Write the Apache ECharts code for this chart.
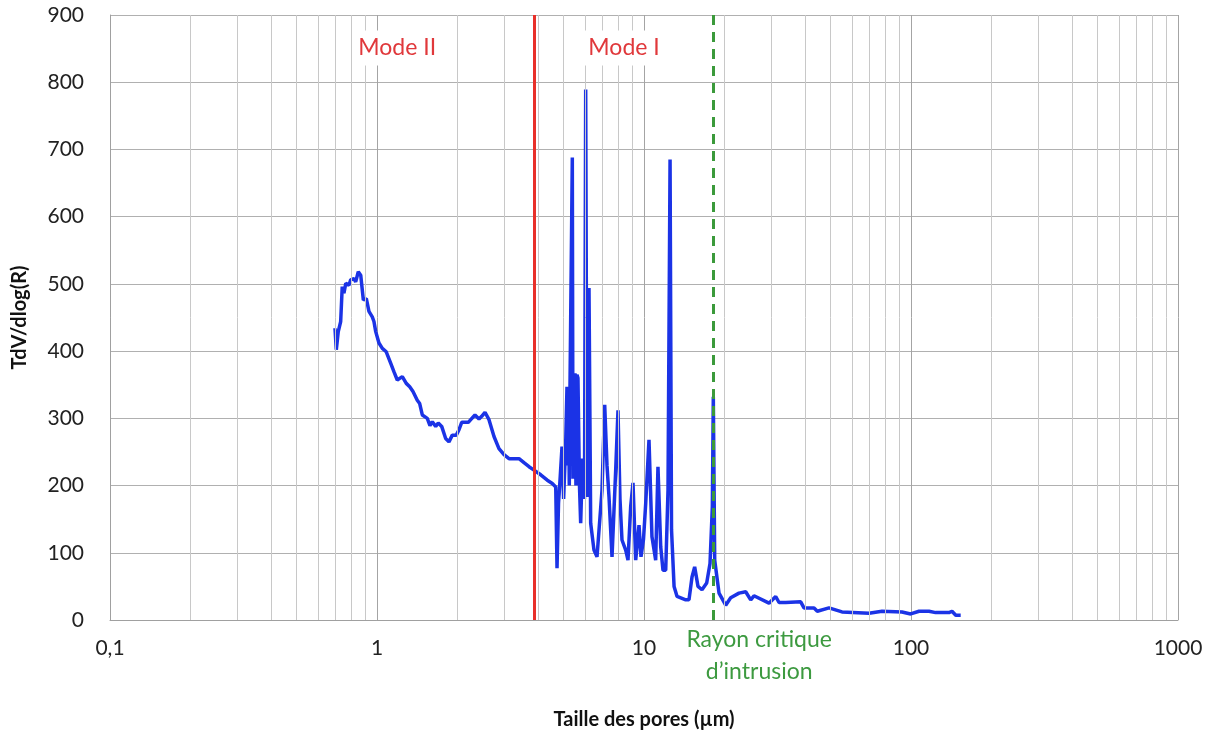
<!DOCTYPE html>
<html>
<head>
<meta charset="utf-8" />
<title>Distribution de la taille des pores</title>
<script type="text/javascript" src="https://cdn.jsdelivr.net/npm/echarts@6/dist/echarts.min.js"></script>
</head>
<body style="margin:0;background:#fff;">
<div id="main" style="width:1217px;height:736px;"></div>
<script>
// taille des pores (µm) et TdV/dlog(R)
var poreSize = [0.696,0.704,0.716,0.731,0.741,0.752,0.764,0.785,0.797,0.820,0.832,0.851,0.869,0.881,0.889,0.912,0.933,0.960,0.974,0.989,
  1.017,1.047,1.083,1.125,1.158,1.191,1.244,1.287,1.326,1.364,1.415,1.445,1.478,1.543,1.579,1.611,1.659,1.696,1.747,1.808,
  1.860,1.914,1.982,2.028,2.076,2.198,2.244,2.328,2.410,2.467,2.538,2.627,2.743,2.863,2.990,3.122,3.403,3.552,3.710,3.873,
  4.104,4.343,4.535,4.671,4.723,4.785,4.850,4.931,5.000,5.090,5.147,5.180,5.214,5.250,5.282,5.389,5.420,5.445,5.480,5.515,5.560,5.610,5.658,5.732,5.792,5.884,5.986,6.048,
  6.116,6.223,6.314,6.496,6.668,6.961,7.125,7.268,7.395,7.589,7.834,7.991,8.129,8.271,8.540,8.711,8.916,9.095,9.309,9.579,
  9.745,9.957,10.15,10.44,10.71,11.06,11.28,11.55,11.78,12.06,12.30,12.52,12.68,12.96,13.30,14.33,14.74,15.13,15.48,15.93,
  16.49,17.17,17.67,18.03,18.18,18.40,19.10,19.38,20.23,21.12,22.69,24.04,25.10,25.82,29.39,31.14,32.04,33.94,38.63,39.74,
  43.33,44.58,49.31,55.15,69.62,77.88,92.53,99.7,107.2,116.8,123.7,138.8,142.4,147.1,153.5];
var dVdlogR = [434,402,429,444,496,486,501,498,506,508,503,518,513,511,476,478,459,451,444,429,
  412,404,399,382,369,357,362,352,347,340,327,322,305,300,289,295,288,293,288,270,
  265,275,275,283,294,294,298,305,299,303,309,298,273,255,246,240,240,234,228,223,
  216,208,203,198,77,174,210,258,180,263,347,230,345,200,347,688,210,300,240,367,200,365,360,200,144,240,180,789,
  183,494,144,104,94,193,320,230,183,94,223,312,180,119,104,89,169,204,89,141,
  94,120,174,268,124,89,228,109,74,74,193,685,134,50,35,30,30,64,79,50,
  45,55,84,169,332,89,40,40,22,33,40,42,30,36,25,35,26,26,27,18,
  18,13,18,12,10,13,12,9,13,13,11,11,13,7,7];

// lignes verticales secondaires de la grille log
var minorTicks = [0.2,0.3,0.4,0.5,0.6,0.7,0.8,0.9, 2,3,4,5,6,7,8,9, 20,30,40,50,60,70,80,90, 200,300,400,500,600,700,800,900];
// limite des modes et rayon critique
var modeLimit = 3.87;
var rayonCritique = 18.2;

var pts = [];
for (var i = 0; i < poreSize.length; i++) {
  pts.push([poreSize[i], dVdlogR[i]]);
}

var font = 'Lato, "Open Sans", sans-serif';
var chart = echarts.init(document.getElementById('main'));

var minorLines = [];
for (var j = 0; j < minorTicks.length; j++) {
  minorLines.push({xAxis: minorTicks[j], lineStyle: {color: '#c8c8c8', width: 1, type: 'solid'}});
}

chart.setOption({
  animation: false,
  backgroundColor: '#fff',
  grid: {left: 110, right: 39, top: 15, bottom: 116},
  xAxis: {
    type: 'log',
    logBase: 10,
    min: 0.1,
    max: 1000,
    name: 'Taille des pores (µm)',
    nameLocation: 'middle',
    nameGap: 90,
    nameTextStyle: {fontFamily: font, fontSize: 20, fontWeight: 'bold', color: '#111'},
    axisLine: {show: true, lineStyle: {color: '#a0a0a0', width: 1}},
    axisTick: {show: false},
    axisLabel: {
      fontFamily: font, fontSize: 21, color: '#222', margin: 18,
      formatter: function (v) { return String(Number(v.toPrecision(6))).replace('.', ','); }
    },
    splitLine: {show: true, lineStyle: {color: '#a4a4a4', width: 1}}
  },
  yAxis: {
    type: 'value',
    min: 0,
    max: 900,
    interval: 100,
    name: 'TdV/dlog(R)',
    nameLocation: 'middle',
    nameGap: 80,
    nameRotate: 90,
    nameTextStyle: {fontFamily: font, fontSize: 20, fontWeight: 'bold', color: '#111'},
    axisLine: {show: true, lineStyle: {color: '#a0a0a0', width: 1}},
    axisTick: {show: false},
    axisLabel: {fontFamily: font, fontSize: 21, color: '#222', margin: 26},
    splitLine: {show: true, lineStyle: {color: '#b0b0b0', width: 1}}
  },
  series: [
    {
      // grille secondaire + limite des modes
      type: 'line',
      data: [],
      z: 1,
      silent: true,
      markLine: {
        silent: true,
        symbol: ['none', 'none'],
        animation: false,
        label: {show: false},
        data: minorLines.concat([
          {xAxis: modeLimit, lineStyle: {color: '#e8302a', width: 3, type: 'solid'}}
        ])
      }
    },
    {
      name: 'TdV/dlog(R)',
      type: 'line',
      data: pts,
      z: 2,
      showSymbol: false,
      symbol: 'none',
      sampling: null,
      lineStyle: {color: '#1b33e6', width: 3.5},
      markPoint: {
        symbol: 'rect',
        symbolSize: 0,
        silent: true,
        data: [
          {name: 'Mode II', coord: [1.19, 851]},
          {name: 'Mode I', coord: [8.42, 851]}
        ],
        label: {show: true, position: 'inside', formatter: '{b}', fontFamily: font, fontSize: 23,
                color: '#e0383b', backgroundColor: '#fff', padding: [6, 6]}
      }
    },
    {
      // rayon critique d'intrusion
      type: 'line',
      data: [],
      z: 3,
      silent: true,
      markLine: {
        silent: true,
        symbol: ['none', 'none'],
        animation: false,
        label: {show: false},
        data: [
          {xAxis: rayonCritique, lineStyle: {color: '#3b9a3b', width: 3, type: [10, 7]}}
        ]
      }
    }
  ]
});

// légende du rayon critique sous l'axe
var p = chart.convertToPixel({gridIndex: 0}, [27, 0]);
chart.setOption({
  graphic: [{
    type: 'text',
    x: p[0],
    y: p[1] + 36,
    silent: true,
    style: {
      text: 'Rayon critique\nd\u2019intrusion',
      fill: '#3d9a40',
      font: '23px ' + font,
      lineHeight: 32,
      align: 'center',
      verticalAlign: 'middle'
    }
  }]
});
</script>
</body>
</html>
